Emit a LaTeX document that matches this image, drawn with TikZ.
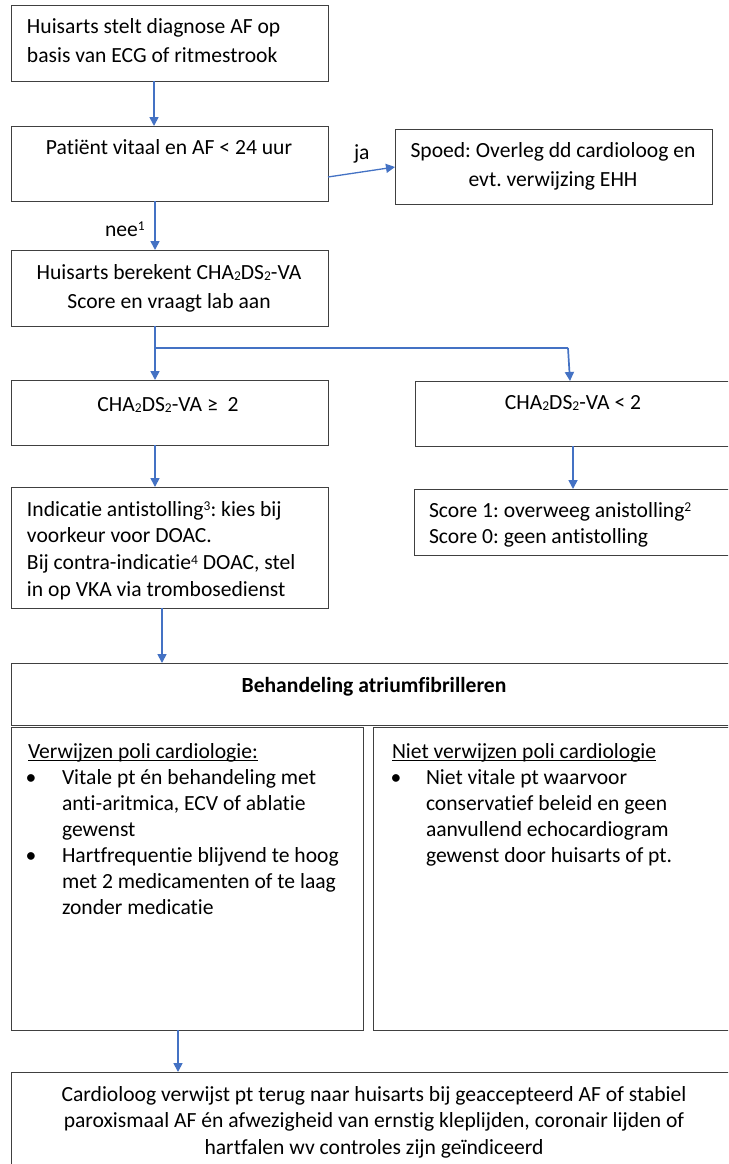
\documentclass[tikz,border=0pt]{standalone}
\usepackage{fontspec}
\setmainfont{Carlito}[Ligatures=NoCommon]
\usetikzlibrary{arrows.meta}
\definecolor{arrblue}{HTML}{4472C4}
\definecolor{boxline}{HTML}{404040}
\newcommand\supnum[1]{\raisebox{5.2pt}{\fontsize{13.5}{13.5}\selectfont #1}}
\newcommand\subnum[1]{\raisebox{-1.5pt}{\fontsize{13.5}{13.5}\selectfont #1}}
\newcommand\cha{CHA\subnum{2}DS\subnum{2}-VA}
\newcommand\lbox[3]{\parbox[t]{#1}{\fontsize{21.6}{#2}\selectfont\frenchspacing\raggedright #3}}
\newcommand\cbox[3]{\parbox[t]{#1}{\fontsize{21.6}{#2}\selectfont\frenchspacing\centering #3}}
\newcommand\bx[5]{\node[box, anchor=north west, minimum width={(#4)-(#2)}, minimum height={(#5)-(#3)}] (#1) at (#2,#3) {};}
\begin{document}
\begin{tikzpicture}[x=1pt,y=-1pt,
  box/.style={draw=boxline, line width=1pt, inner sep=0pt, outer sep=0pt, rectangle},
  txt/.style={inner sep=0pt, outer sep=0pt, font=\fontsize{21.6}{26}\selectfont\frenchspacing},
  arr/.style={draw=arrblue, line width=1.7pt, -{Triangle[length=9pt,width=9pt]}},
  ln/.style={draw=arrblue, line width=1.1pt},
  uline/.style={draw=black, line width=1.3pt},
]
\useasboundingbox (0,0) rectangle (728,1164);
\clip (0,0) rectangle (728,1164);
\fill[white] (0,0) rectangle (728,1164);

% boxes
\bx{b1}{11}{6}{328}{81}
\bx{b2}{11}{126}{328}{201}
\bx{sp}{395}{129}{712}{204}
\bx{b4}{11}{250}{328}{326}
\bx{b5}{11}{380}{328}{445}
\bx{b6}{415}{381}{731}{446}
\bx{b7}{414}{489}{731}{555}
\bx{b8}{11}{487}{328}{608}
\bx{hd}{11}{663}{737}{725}
\bx{vl}{11}{727}{363}{1030}
\bx{nv}{373}{727}{737}{1030}
\bx{eb}{11}{1072}{737}{1190}

% texts
\node[txt, anchor=base west] (t1) at (27,34) {\lbox{300pt}{28.5pt}{Huisarts stelt diagnose AF op\\basis van ECG of ritmestrook}};
\node[txt, anchor=base] (t2) at (169,154) {Patiënt vitaal en AF < 24 uur};
\node[txt, anchor=base] (tsp) at (553,157) {\cbox{310pt}{29pt}{Spoed: Overleg dd cardioloog en\\evt. verwijzing EHH}};
\node[txt, anchor=base west] (tja) at (354,159) {ja};
\node[txt, anchor=base west] (tnee) at (105,236) {nee\supnum{1}};
\node[txt, anchor=base] (t4) at (169,279) {\cbox{310pt}{29pt}{Huisarts berekent \cha\\Score en vraagt lab aan}};
\node[txt, anchor=base] (t5) at (168,411) {\cha{} ≥\ \ 2};
\node[txt, anchor=base] (t6) at (573,409) {\cha{} < 2};
\node[txt, anchor=base west] (t7) at (429,517) {\lbox{300pt}{26.7pt}{Score 1: overweeg anistolling\supnum{2}\\Score 0: geen antistolling}};
\node[txt, anchor=base west] (t8) at (27,516) {\lbox{300pt}{26.7pt}{Indicatie antistolling\supnum{3}: kies bij\\voorkeur voor DOAC.\\Bij contra-indicatie\supnum{4} DOAC, stel\\in op VKA via trombosedienst}};
\node[txt, anchor=base, font=\fontsize{21.6}{26}\selectfont\bfseries] (thd) at (374,692) {Behandeling atriumfibrilleren};

\node[txt, anchor=base west] (uvl) at (28,758) {Verwijzen poli cardiologie:};
\draw[uline] ([yshift=-2.5pt]uvl.base west) -- ([yshift=-2.5pt]uvl.base east);
\node[txt, anchor=base] (bul1) at (31,784) {•};
\node[txt, anchor=base west] (tvl1) at (62,784) {\lbox{300pt}{26pt}{Vitale pt én behandeling met\\anti-aritmica, ECV of ablatie\\gewenst}};
\node[txt, anchor=base] (bul2) at (31,862) {•};
\node[txt, anchor=base west] (tvl2) at (62,862) {\lbox{300pt}{26pt}{Hartfrequentie blijvend te hoog\\met 2 medicamenten of te laag\\zonder medicatie}};

\node[txt, anchor=base west] (unv) at (392,758) {Niet verwijzen poli cardiologie};
\draw[uline] ([yshift=-2.5pt]unv.base west) -- ([yshift=-2.5pt]unv.base east);
\node[txt, anchor=base] (bul3) at (396,784) {•};
\node[txt, anchor=base west] (tnv1) at (426,784) {\lbox{300pt}{26pt}{Niet vitale pt waarvoor\\conservatief beleid en geen\\aanvullend echocardiogram\\gewenst door huisarts of pt.}};

\node[txt, anchor=base] (teb) at (374,1101) {\cbox{720pt}{26.7pt}{Cardioloog verwijst pt terug naar huisarts bij geaccepteerd AF of stabiel\\paroxismaal AF én afwezigheid van ernstig kleplijden, coronair lijden of\\hartfalen wv controles zijn geïndiceerd}};

% connectors
\coordinate (bj) at (155,348);
\coordinate (br) at (568,348);
\draw[arr] (b1.south -| 154,0) -- (b2.north -| 154,0);
\draw[arr] (b2.south -| 155,0) -- (b4.north -| 155,0);
\draw[arr, line width=1.3pt] (b2.east |- 0,177) -- (sp.west |- 0,167);
\draw[arr] (b4.south -| 155,0) -- (b5.north -| 155,0);
\draw[ln] (bj) -- (br);
\draw[arr] (br) -- (b6.north -| 570,0);
\draw[arr] (b6.south -| 573,0) -- (b7.north -| 573,0);
\draw[arr] (b5.south -| 155,0) -- (b8.north -| 155,0);
\draw[arr] (b8.south -| 162,0) -- (hd.north -| 162,0);
\draw[arr] (vl.south -| 178,0) -- (eb.north -| 178,0);
\end{tikzpicture}
\end{document}
